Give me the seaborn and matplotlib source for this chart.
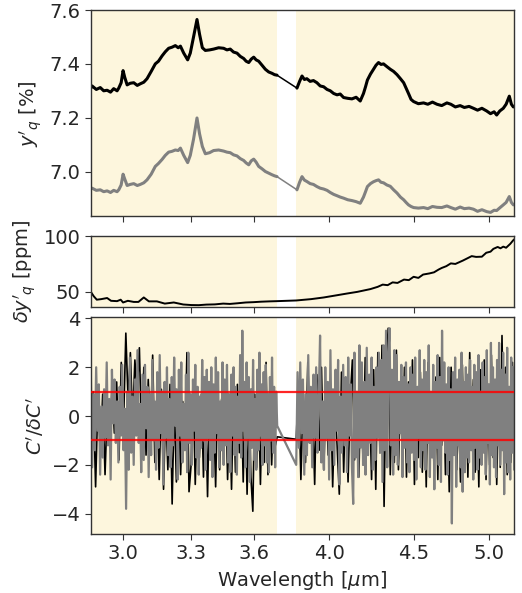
import numpy as np
import seaborn as sns
import matplotlib.pyplot as plt
from matplotlib.ticker import FixedLocator, NullLocator, FixedFormatter

# ---- data ----
# top panel: y'_q [%] (black) and a second curve (gray), left and right of the gap
wl_top_left = [2.868, 2.873, 2.89, 2.906, 2.92, 2.934, 2.948, 2.961, 2.975, 2.982, 2.992, 3.0, 3.007,
               3.017, 3.03, 3.045, 3.06, 3.073, 3.088, 3.102, 3.12, 3.138, 3.152, 3.168, 3.182, 3.197,
               3.212, 3.227, 3.24, 3.25, 3.265, 3.283, 3.295, 3.31, 3.326, 3.338, 3.351, 3.365, 3.385,
               3.404, 3.428, 3.452, 3.468, 3.484, 3.5, 3.517, 3.533, 3.55, 3.562, 3.575, 3.588, 3.6,
               3.612, 3.625, 3.642, 3.659, 3.676, 3.693, 3.706, 3.719]
y_top_black_left = [7.31, 7.318, 7.305, 7.312, 7.3, 7.302, 7.295, 7.308, 7.3, 7.31, 7.33, 7.375, 7.35,
                    7.322, 7.328, 7.33, 7.32, 7.326, 7.332, 7.345, 7.372, 7.4, 7.41, 7.43, 7.445, 7.458,
                    7.462, 7.468, 7.46, 7.466, 7.44, 7.415, 7.44, 7.5, 7.565, 7.51, 7.46, 7.45, 7.452,
                    7.455, 7.46, 7.458, 7.452, 7.455, 7.444, 7.44, 7.428, 7.42, 7.41, 7.405, 7.418, 7.425,
                    7.415, 7.41, 7.395, 7.38, 7.37, 7.365, 7.36, 7.358]
y_top_gray_left = [6.935, 6.938, 6.93, 6.932, 6.925, 6.928, 6.922, 6.93, 6.925, 6.932, 6.95, 6.99, 6.972,
                   6.948, 6.952, 6.955, 6.948, 6.952, 6.958, 6.969, 6.99, 7.019, 7.03, 7.045, 7.06, 7.072,
                   7.075, 7.08, 7.078, 7.087, 7.06, 7.033, 7.06, 7.12, 7.199, 7.14, 7.093, 7.066, 7.07,
                   7.078, 7.08, 7.076, 7.072, 7.07, 7.062, 7.058, 7.048, 7.041, 7.032, 7.025, 7.04, 7.046,
                   7.035, 7.019, 7.01, 7.0, 6.994, 6.988, 6.984, 6.981]
wl_top_right = [3.824, 3.838, 3.851, 3.864, 3.877, 3.895, 3.913, 3.932, 3.95, 3.969, 3.988, 4.006,
                4.025, 4.044, 4.062, 4.081, 4.105, 4.129, 4.153, 4.177, 4.196, 4.208, 4.219, 4.237,
                4.255, 4.27, 4.285, 4.3, 4.315, 4.335, 4.356, 4.376, 4.397, 4.418, 4.438, 4.453,
                4.468, 4.484, 4.5, 4.53, 4.563, 4.59, 4.62, 4.649, 4.68, 4.714, 4.74, 4.77, 4.802,
                4.83, 4.862, 4.892, 4.92, 4.95, 4.983, 5.01, 5.035, 5.053, 5.075, 5.1, 5.12, 5.143,
                5.158, 5.172]
y_top_black_right = [7.31, 7.335, 7.355, 7.342, 7.345, 7.335, 7.338, 7.33, 7.318, 7.315, 7.305, 7.3,
                     7.29, 7.285, 7.288, 7.275, 7.272, 7.27, 7.276, 7.262, 7.29, 7.315, 7.34, 7.362,
                     7.38, 7.395, 7.405, 7.398, 7.4, 7.39, 7.38, 7.372, 7.36, 7.345, 7.33, 7.31,
                     7.29, 7.268, 7.26, 7.252, 7.255, 7.25, 7.258, 7.25, 7.245, 7.255, 7.25, 7.24, 7.245,
                     7.238, 7.242, 7.235, 7.228, 7.235, 7.225, 7.215, 7.222, 7.21, 7.225, 7.235, 7.25, 7.28,
                     7.25, 7.24]
y_top_gray_right = [6.932, 6.96, 6.981, 6.968, 6.963, 6.955, 6.952, 6.944, 6.938, 6.935, 6.93, 6.922,
                    6.915, 6.91, 6.905, 6.901, 6.895, 6.892, 6.888, 6.882, 6.905, 6.925, 6.944, 6.955,
                    6.962, 6.966, 6.969, 6.96, 6.958, 6.95, 6.945, 6.932, 6.92, 6.905, 6.895, 6.885,
                    6.876, 6.87, 6.866, 6.864, 6.866, 6.862, 6.87, 6.867, 6.866, 6.872, 6.866, 6.86, 6.868,
                    6.862, 6.864, 6.86, 6.852, 6.858, 6.851, 6.848, 6.856, 6.855, 6.865, 6.876, 6.885, 6.907,
                    6.885, 6.876]

# middle panel: uncertainty delta y'_q [ppm]
wl_err = [2.868, 2.88, 2.892, 2.91, 2.934, 2.95, 2.975, 2.99, 3.0, 3.02, 3.045, 3.065, 3.088, 3.11, 3.145,
          3.18, 3.22, 3.263, 3.3, 3.334, 3.37, 3.41, 3.45, 3.482, 3.52, 3.56, 3.6, 3.637, 3.68, 3.72,
          3.82, 3.9, 3.97, 4.044, 4.1, 4.16, 4.237, 4.28, 4.31, 4.34, 4.37, 4.4, 4.44, 4.47, 4.5, 4.53,
          4.56, 4.6, 4.63, 4.66, 4.68, 4.71, 4.74, 4.77, 4.79, 4.82, 4.85, 4.88, 4.91, 4.95, 4.98, 5.01,
          5.03, 5.06, 5.08, 5.1, 5.12, 5.15, 5.17, 5.178]
err_ppm = [50, 46, 43, 43.5, 44.5, 42, 41.7, 43, 40.5, 42, 41, 41, 45, 41.5, 41.5,
           39.5, 40.5, 38.7, 38.2, 38.1, 38.6, 38.8, 39.5, 39.2, 39.8, 40.5, 40.8, 41.2, 41.5, 41.7,
           42.3, 43.5, 45, 47, 48.5, 50, 52.5, 54.5, 56.5, 56, 58.5, 58, 61, 60.5, 63.5, 62.5,
           65.5, 66.5, 67.5, 70, 71.4, 73, 75.5, 75, 76.2, 78, 80, 82, 81.3, 81.5, 85, 86,
           88.5, 90.2, 89, 90.5, 89.5, 93, 96, 97]

# bottom panel: normalised residuals C'/dC'
resid_gray_left = [1.8, -2.1, 0.9, -1.4, 2.0, -0.6, 1.3, -2.4, 0.4, -1.7,
                   1.1, -0.9, 2.2, -1.2, 0.7, -2.6, 1.9, -0.3, 1.5, -1.1,
                   0.6, -1.9, 1.2, -0.8, 2.1, -1.4, 0.3, -3.8, 1.0, -2.2,
                   2.4, -1.5, 0.8, -2.0, 1.5, -0.8, 2.7, -1.1, 0.5, -2.3,
                   1.7, -1.8, 2.1, -0.5, 1.2, -2.5, 0.9, -1.6, 2.3, -1.0,
                   0.6, -2.2, 1.8, -1.3, 2.5, -0.7, 1.0, -2.8, 1.4, -0.9,
                   2.0, -1.6, 0.7, -2.1, 1.6, -1.2, 2.4, -0.4, 1.1, -2.6,
                   1.9, -0.8, 2.2, -1.9, 0.5, -1.4, 1.7, -2.3, 2.6, -1.1,
                   0.9, -2.0, 1.5, -0.6, 2.1, -1.7, 1.2, -2.4, 0.8, -1.3,
                   2.3, -1.0, 1.6, -2.2, 1.9, -0.9, 1.4, -1.8, 2.0, -2.5,
                   1.3, -1.5, 2.4, -0.7, 1.8, -2.1, 0.6, -1.4, 2.2, -2.0,
                   1.5, -1.2, 2.1, -1.9, 0.9, -2.3, 1.7, -0.8, 2.0, -1.6,
                   1.2, -2.4, 0.8, -1.1, 2.5, -1.7, 3.5, -0.6, 1.4, -2.1,
                   2.2, -0.9, 1.6, -2.7, 1.1, -1.3, 2.3, -1.8, 0.7, -2.2,
                   1.9, -1.4, 2.6, -0.8, 1.3, -2.0, 1.8, -1.2, 2.1, -1.9,
                   0.9, -2.3, 1.6, -1.0, 2.4, -1.5, 1.2, -2.1, 1.0, -0.4]
resid_gray_right = [-2.0, 1.8, -1.3, 2.2, -0.7, 1.5, -2.4, 0.9, -1.6, 2.5,
                    -1.1, 1.2, -2.1, 1.7, -0.9, 2.0, -1.5, 0.8, 3.3, -1.9,
                    0.6, -2.2, 2.0, -0.9, 1.4, -2.6, 2.7, -1.4, 1.1, -2.0,
                    1.9, -0.6, 2.3, -2.8, 0.8, -1.5, 2.1, -1.2, 1.6, -2.3,
                    2.4, -0.8, 1.3, -2.1, -3.6, 2.6, -1.7, 1.0, -2.5, 2.9,
                    -1.3, 2.2, -2.0, 1.4, -2.4, 2.8, -1.6, 1.7, -1.1, 2.4,
                    -2.2, 1.2, -1.8, 2.0, -0.9, 2.6, -1.5, 2.3, -2.7, 2.9,
                    -1.4, 3.5, -2.1, 2.6, 3.6, -1.2, 1.9, -2.4, 2.7, -1.6,
                    2.5, -2.0, 1.4, -0.7, 2.1, -2.5, 1.6, -1.3, 2.2, -1.9,
                    1.3, -2.3, 2.0, -1.5, 1.7, -1.8, 2.4, -2.6, 1.2, -0.9,
                    2.7, -2.1, 1.5, -1.4, 2.3, -2.2, 1.8, -1.1, 2.9, -2.5,
                    1.0, -1.7, 2.1, -3.0, 1.4, -1.3, 2.5, -2.0, 1.6, -2.7,
                    3.5, -1.0, 2.2, -1.5, 1.3, -2.4, 2.0, -1.8, 1.1, -4.4,
                    1.8, -1.6, 2.4, -2.9, 1.5, -1.2, 1.9, -2.1, 2.6, -3.1,
                    1.4, -2.3, 2.0, -1.7, 1.7, -1.9, 2.3, -1.4, 1.2, -2.6,
                    2.1, -1.3, 1.8, -2.2, 2.5, -1.7, 1.0, -2.0, 2.2, -1.5,
                    1.6, -2.4, 2.7, -1.1, 1.3, -2.8, 3.0, -1.6, 2.0, -2.1,
                    1.5, -2.5, 2.3, -1.2, 3.0, -2.0, 1.9, -1.4, 2.6, -3.2,
                    1.7, -1.9, 2.8, -2.3, 1.2, -2.6, 2.4, -1.5, 2.0, -2.2]
resid_black_left = [-2.0, 1.0, -2.9, 0.8, -1.5, 0.9, -2.4, 0.5, -1.1, 1.2,
                    -0.7, 1.4, -1.8, 2.2, -0.3, 3.4, 0.6, 2.6, -0.2, 2.3,
                    0.9, 2.8, -0.9, 2.0, -1.6, 1.5, -0.8, 2.5, -1.9, 0.7,
                    -2.6, 1.1, -3.0, 0.4, -2.2, 1.3, -3.6, 0.6, -2.7, 1.0,
                    -2.4, 0.6, -1.3, 2.6, -3.1, -2.0, 1.2, -2.8, 0.5, -1.7,
                    0.9, -2.5, 0.7, -3.3, 1.0, -1.2, 0.3, -2.9, 1.1, -2.2,
                    0.7, -1.8, 1.2, -2.6, 0.4, -3.0, 1.0, -2.3, 1.3, -1.5,
                    0.8, -2.7, 1.1, -3.2, 0.5, -2.5, -3.9, 0.9, -2.1, 1.0,
                    -2.8, 0.6, -1.9, 2.2, -2.4, 1.0, -2.0, 0.4, -1.2, -0.85]
resid_black_right = [-0.95, 1.4, -2.6, 0.8, -1.9, 2.2, -1.1, 0.6, -2.8, 1.7,
                     -1.4, 2.0, -2.2, 0.9, -1.6, 1.3, -2.9, 0.5, -1.2, -3.2,
                     1.8, -2.3, 1.1, -2.7, 0.7, 2.3, -1.8, 1.0, -2.5, 1.5,
                     -2.0, 2.4, -1.3, 0.8, -2.6, 1.9, -3.0, 2.6, -1.5, 2.9,
                     -3.7, 2.1, 3.6, -2.4, 1.2, -1.9, 2.7, -2.2, 0.9, -1.6,
                     2.0, -2.5, 1.4, -1.1, 2.3, -2.8, 0.6, -1.7, 1.8, -2.3,
                     1.1, -2.9, 2.2, -1.4, 0.9, -2.1, 1.6, -2.6, 2.4, -1.2,
                     1.3, -2.4, 0.8, -3.1, 2.0, -1.5, 1.7, -2.2, 0.5, -2.7,
                     2.1, -1.8, 1.2, -2.5, 2.6, -1.0, 1.5, -2.3, 0.7, -2.9,
                     1.9, -1.4, 2.3, -2.6, 1.0, -2.0, 2.5, -1.7, 1.4, -2.8,
                     0.9, -2.1, 3.3, -1.3, 2.0, -2.4, 1.2, -1.9, 2.2, -1.6]

gap = (3.72, 3.82)
wl_range = (2.868, 5.178)
xticks = [3.0, 3.3, 3.6, 4.0, 4.5, 5.0]
xticklabels = ["3.0", "3.3", "3.6", "4.0", "4.5", "5.0"]

# residual wavelength grids (evenly sampled either side of the gap)
wl_res_gray = np.concatenate([np.linspace(wl_range[0], gap[0], len(resid_gray_left)),
                              np.linspace(gap[1], wl_range[1], len(resid_gray_right))])
wl_res_black = np.concatenate([np.linspace(wl_range[0], gap[0], len(resid_black_left)),
                               np.linspace(gap[1], wl_range[1], len(resid_black_right))])
res_gray = np.array(resid_gray_left + resid_gray_right)
res_black = np.array(resid_black_left + resid_black_right)

sns.set_style("ticks")
plt.rcParams["font.family"] = ["DejaVu Sans"]
plt.rcParams["font.size"] = 14
plt.rcParams["axes.edgecolor"] = "#333333"
plt.rcParams["mathtext.fontset"] = "dejavusans"

band_color = "#fdf6dd"

fig = plt.figure(figsize=(5.22, 5.93), dpi=100)
ax_top = fig.add_axes([0.174, 0.635, 0.811, 0.348])
ax_mid = fig.add_axes([0.174, 0.482, 0.811, 0.120])
ax_bot = fig.add_axes([0.174, 0.100, 0.811, 0.365])


def style_axis(ax, show_labels):
    ax.set_xscale("log")
    ax.set_xlim(*wl_range)
    ax.axvspan(wl_range[0], gap[0], color=band_color, lw=0, zorder=0)
    ax.axvspan(gap[1], wl_range[1], color=band_color, lw=0, zorder=0)
    ax.xaxis.set_major_locator(FixedLocator(xticks))
    ax.xaxis.set_minor_locator(NullLocator())
    if show_labels:
        ax.xaxis.set_major_formatter(FixedFormatter(xticklabels))
    else:
        ax.set_xticklabels([])
    ax.tick_params(axis="both", labelsize=14, length=4, color="#333333")
    for s in ax.spines.values():
        s.set_linewidth(1.0)


def draw_split(ax, wl_l, y_l, wl_r, y_r, color, lw):
    sns.lineplot(x=wl_l, y=y_l, ax=ax, color=color, lw=lw, sort=False, estimator=None)
    sns.lineplot(x=wl_r, y=y_r, ax=ax, color=color, lw=lw, sort=False, estimator=None)
    # straight bridge across the gap
    sns.lineplot(x=[wl_l[-1], wl_r[0]], y=[y_l[-1], y_r[0]], ax=ax, color=color, lw=1.1,
                 sort=False, estimator=None)


# top panel
draw_split(ax_top, wl_top_left, y_top_black_left, wl_top_right, y_top_black_right, "black", 2.2)
draw_split(ax_top, wl_top_left, y_top_gray_left, wl_top_right, y_top_gray_right, "gray", 2.2)
style_axis(ax_top, False)
ax_top.set_ylim(6.833, 7.6)
ax_top.set_yticks([7.0, 7.2, 7.4, 7.6])
ax_top.set_ylabel(r"$y'_q$ [%]", fontsize=14)

# middle panel
sns.lineplot(x=wl_err, y=err_ppm, ax=ax_mid, color="black", lw=1.4, sort=False, estimator=None)
style_axis(ax_mid, False)
ax_mid.set_ylim(36.3, 100)
ax_mid.set_yticks([50, 100])
ax_mid.set_ylabel(r"$\delta y'_q$ [ppm]", fontsize=14)

# bottom panel
sns.lineplot(x=wl_res_black, y=res_black, ax=ax_bot, color="black", lw=1.2, sort=False, estimator=None)
sns.lineplot(x=wl_res_gray, y=res_gray, ax=ax_bot, color="gray", lw=1.6, sort=False, estimator=None)
for level in (1, -1):
    ax_bot.axhline(level, color="red", lw=1.6, alpha=0.85, zorder=5)
style_axis(ax_bot, True)
ax_bot.set_ylim(-4.82, 4.05)
ax_bot.set_yticks([-4, -2, 0, 2, 4])
ax_bot.set_ylabel(r"$C'/\delta C'$", fontsize=14)
ax_bot.set_xlabel(r"Wavelength [$\mu$m]", fontsize=14)

fig.savefig("out.png", dpi=100)
